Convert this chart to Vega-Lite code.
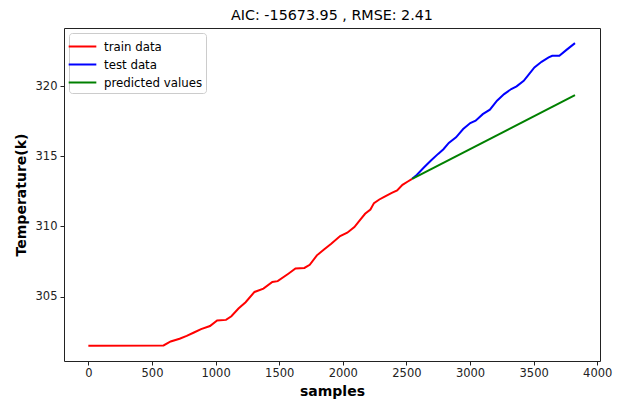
{
  "$schema": "https://vega.github.io/schema/vega-lite/v6.json",
  "width": 536,
  "height": 333,
  "autosize": "none",
  "padding": {"left": 64, "top": 28, "right": 22, "bottom": 41},
  "background": "white",
  "config": {
    "font": "DejaVu Sans",
    "view": {"stroke": "#222", "strokeWidth": 1},
    "axis": {"labelFont": "DejaVu Sans", "titleFont": "DejaVu Sans", "labelColor": "#222", "tickColor": "#222", "titleColor": "#000", "domain": false, "grid": false}
  },
  "title": {"text": "AIC: -15673.95 , RMSE: 2.41", "fontSize": 14.3, "fontWeight": "normal", "font": "DejaVu Sans", "color": "#000", "offset": 5, "anchor": "middle"},
  "data": {
    "values": [
      {"sample": 0, "temp": 301.49, "series": "train data"},
      {"sample": 591, "temp": 301.52, "series": "train data"},
      {"sample": 647, "temp": 301.8, "series": "train data"},
      {"sample": 717, "temp": 302.0, "series": "train data"},
      {"sample": 773, "temp": 302.2, "series": "train data"},
      {"sample": 830, "temp": 302.44, "series": "train data"},
      {"sample": 886, "temp": 302.68, "series": "train data"},
      {"sample": 956, "temp": 302.9, "series": "train data"},
      {"sample": 1012, "temp": 303.3, "series": "train data"},
      {"sample": 1082, "temp": 303.34, "series": "train data"},
      {"sample": 1124, "temp": 303.6, "series": "train data"},
      {"sample": 1180, "temp": 304.15, "series": "train data"},
      {"sample": 1236, "temp": 304.6, "series": "train data"},
      {"sample": 1306, "temp": 305.33, "series": "train data"},
      {"sample": 1376, "temp": 305.57, "series": "train data"},
      {"sample": 1446, "temp": 306.04, "series": "train data"},
      {"sample": 1488, "temp": 306.1, "series": "train data"},
      {"sample": 1572, "temp": 306.63, "series": "train data"},
      {"sample": 1628, "temp": 307.0, "series": "train data"},
      {"sample": 1698, "temp": 307.04, "series": "train data"},
      {"sample": 1740, "temp": 307.27, "series": "train data"},
      {"sample": 1796, "temp": 307.94, "series": "train data"},
      {"sample": 1852, "temp": 308.36, "series": "train data"},
      {"sample": 1909, "temp": 308.77, "series": "train data"},
      {"sample": 1979, "temp": 309.31, "series": "train data"},
      {"sample": 2035, "temp": 309.55, "series": "train data"},
      {"sample": 2091, "temp": 309.95, "series": "train data"},
      {"sample": 2133, "temp": 310.43, "series": "train data"},
      {"sample": 2175, "temp": 310.9, "series": "train data"},
      {"sample": 2217, "temp": 311.2, "series": "train data"},
      {"sample": 2245, "temp": 311.66, "series": "train data"},
      {"sample": 2287, "temp": 311.92, "series": "train data"},
      {"sample": 2329, "temp": 312.13, "series": "train data"},
      {"sample": 2385, "temp": 312.39, "series": "train data"},
      {"sample": 2427, "temp": 312.56, "series": "train data"},
      {"sample": 2469, "temp": 312.96, "series": "train data"},
      {"sample": 2511, "temp": 313.2, "series": "train data"},
      {"sample": 2545, "temp": 313.39, "series": "train data"},
      {"sample": 2545, "temp": 313.39, "series": "test data"},
      {"sample": 2581, "temp": 313.67, "series": "test data"},
      {"sample": 2637, "temp": 314.2, "series": "test data"},
      {"sample": 2693, "temp": 314.7, "series": "test data"},
      {"sample": 2749, "temp": 315.17, "series": "test data"},
      {"sample": 2791, "temp": 315.5, "series": "test data"},
      {"sample": 2833, "temp": 315.95, "series": "test data"},
      {"sample": 2890, "temp": 316.35, "series": "test data"},
      {"sample": 2946, "temp": 316.94, "series": "test data"},
      {"sample": 3002, "temp": 317.37, "series": "test data"},
      {"sample": 3044, "temp": 317.54, "series": "test data"},
      {"sample": 3100, "temp": 318.0, "series": "test data"},
      {"sample": 3156, "temp": 318.32, "series": "test data"},
      {"sample": 3212, "temp": 318.96, "series": "test data"},
      {"sample": 3268, "temp": 319.43, "series": "test data"},
      {"sample": 3324, "temp": 319.79, "series": "test data"},
      {"sample": 3366, "temp": 319.98, "series": "test data"},
      {"sample": 3422, "temp": 320.38, "series": "test data"},
      {"sample": 3464, "temp": 320.85, "series": "test data"},
      {"sample": 3506, "temp": 321.33, "series": "test data"},
      {"sample": 3562, "temp": 321.73, "series": "test data"},
      {"sample": 3618, "temp": 322.04, "series": "test data"},
      {"sample": 3646, "temp": 322.16, "series": "test data"},
      {"sample": 3702, "temp": 322.16, "series": "test data"},
      {"sample": 3758, "temp": 322.58, "series": "test data"},
      {"sample": 3825, "temp": 323.06, "series": "test data"},
      {"sample": 2545, "temp": 313.39, "series": "predicted values"},
      {"sample": 3825, "temp": 319.36, "series": "predicted values"}
    ]
  },
  "mark": {"type": "line", "strokeWidth": 2},
  "encoding": {
    "x": {
      "field": "sample", "type": "quantitative",
      "scale": {"domain": [-191.5, 4021.5], "nice": false, "zero": false},
      "axis": {"values": [0, 500, 1000, 1500, 2000, 2500, 3000, 3500, 4000], "format": "d", "title": "samples", "titleFontWeight": "bold", "titleFontSize": 14, "labelFontSize": 11.5, "tickSize": 4, "labelPadding": 2, "titlePadding": 6, "labelFlush": false}
    },
    "y": {
      "field": "temp", "type": "quantitative",
      "scale": {"domain": [300.41, 324.14], "nice": false, "zero": false},
      "axis": {"values": [305, 310, 315, 320], "title": "Temperature(k)", "titleFontWeight": "bold", "titleFontSize": 14, "labelFontSize": 11.5, "tickSize": 4, "labelPadding": 3, "titlePadding": 7}
    },
    "color": {
      "field": "series", "type": "nominal",
      "scale": {"domain": ["train data", "test data", "predicted values"], "range": ["#ff0000", "#0000ff", "#008000"]},
      "legend": {
        "orient": "none", "legendX": 5, "legendY": 5, "title": null,
        "symbolType": "M-1.5,0H1.5", "symbolSize": 340, "symbolStrokeWidth": 2,
        "labelFontSize": 11.8, "labelFont": "DejaVu Sans", "labelColor": "#000",
        "padding": 3, "rowPadding": 0, "labelOffset": 11,
        "strokeColor": "#ccc", "fillColor": "white", "cornerRadius": 3
      }
    }
  }
}
